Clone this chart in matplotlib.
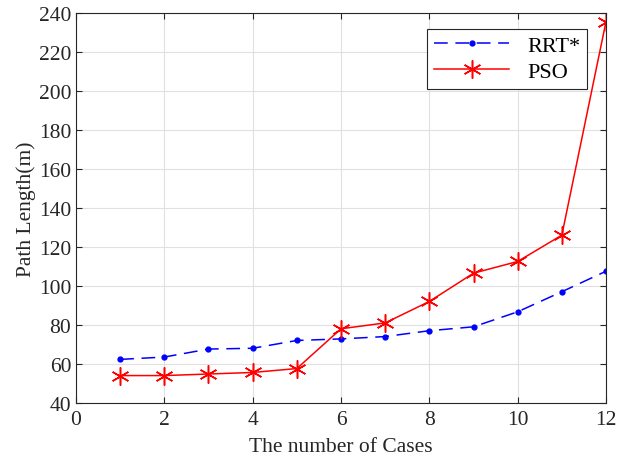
import matplotlib
matplotlib.use("Agg")
import matplotlib.pyplot as plt

# Data
cases = [1, 2, 3, 4, 5, 6, 7, 8, 9, 10, 11, 12]
rrt_star = [62.3, 63.5, 67.6, 68.0, 72.0, 72.8, 74.0, 77.0, 79.0, 86.7, 97.0, 107.5]
pso = [54.0, 54.0, 54.8, 55.6, 57.6, 78.0, 81.0, 92.0, 106.5, 112.5, 126.0, 235.5]

plt.rcParams['font.family'] = ['Liberation Serif', 'DejaVu Serif']

fig = plt.figure(figsize=(6.28, 4.60), dpi=100)
ax = fig.add_axes([0.121, 0.122, 0.844, 0.848])

ax.plot(cases, rrt_star, color='blue', linestyle=(0, (9, 5)), linewidth=1.1,
        marker='.', markersize=7, label='RRT*')
ax.plot(cases, pso, color='red', linestyle='-', linewidth=1.1,
        marker=(6, 2, 0), markersize=13, markeredgewidth=1.1, label='PSO')

ax.set_xlim(0, 12)
ax.set_ylim(40, 240)
ax.set_xticks(range(0, 13, 2))
ax.set_yticks(range(40, 241, 20))
ax.grid(True, color='#e0e0e0', linewidth=0.8)
ax.set_axisbelow(True)
ax.tick_params(direction='in', top=True, right=True, labelsize=15.5, colors='#262626',
               length=4, width=0.8)
ax.tick_params(axis='x', pad=5)
for s in ax.spines.values():
    s.set_color('#262626')
    s.set_linewidth(0.8)

ax.set_xlabel('The number of Cases', fontsize=15.5, color='#262626', labelpad=6)
ax.set_ylabel('Path Length(m)', fontsize=15.5, color='#262626', labelpad=2)

leg = ax.legend(loc='upper right', bbox_to_anchor=(0.985, 0.988), fontsize=16,
                fancybox=False, edgecolor='#262626', framealpha=1,
                handlelength=3.4, borderpad=0.3, labelspacing=0.25)
leg.get_frame().set_linewidth(0.8)

fig.savefig('out.png', dpi=100)
